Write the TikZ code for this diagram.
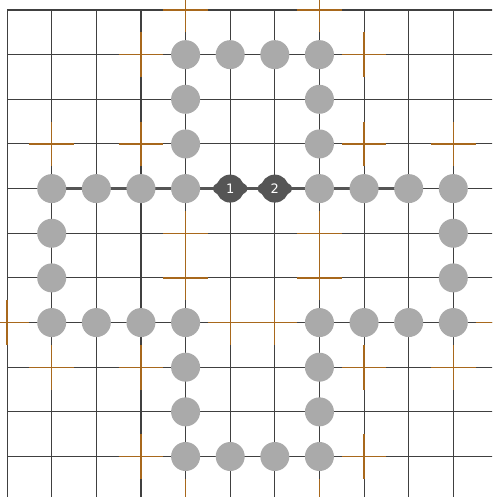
\documentclass[tikz,border=0pt]{standalone}
\usepackage{fontspec}
\setmainfont{DejaVu Sans}
\definecolor{gridc}{HTML}{404040}
\definecolor{crossc}{HTML}{A8681C}
\definecolor{stonec}{HTML}{AAAAAA}
\definecolor{darkc}{HTML}{555555}
\tikzset{
  gridline/.style={draw=gridc, line width=1.1pt},
  crossline/.style={draw=crossc, line width=1.3pt},
  chainline/.style={draw=darkc, line width=3pt},
  stone/.style={circle, fill=stonec, minimum size=29pt, inner sep=0pt},
  darkstone/.style={circle, fill=darkc, minimum size=28pt, inner sep=0pt, text=white, font=\fontsize{13}{13}\selectfont},
  bump/.style={fill=darkc}
}
\begin{document}
\begin{tikzpicture}[x=1pt, y=-1pt]
\useasboundingbox (0,0) rectangle (492,497);
\clip (0,0) rectangle (492,497);
\fill[white] (0,0) rectangle (492,497);
% lattice points
\foreach \i in {0,...,11}{
  \foreach \j in {0,...,11}{
    \coordinate (p-\i-\j) at ({7.1+44.62*\i},{10+44.65*\j});
  }
}
% grid
\foreach \i in {0,...,11}{
  \draw[gridline] (p-\i-0) -- (p-\i-11);
  \draw[gridline] (p-0-\i) -- (p-11-\i);
}
% orange crosses
\foreach \i/\j in {4/0,7/0,3/1,8/1,1/3,3/3,8/3,10/3,4/5,7/5,4/6,7/6,0/7,5/7,6/7,11/7,1/8,3/8,8/8,10/8,3/10,8/10,4/11,7/11}{
  \draw[crossline] ([xshift=-22.3pt]p-\i-\j) -- ([xshift=22.3pt]p-\i-\j);
  \draw[crossline] ([yshift=-22.3pt]p-\i-\j) -- ([yshift=22.3pt]p-\i-\j);
}
% thick chain
\draw[chainline] (p-1-4) -- (p-9-4);
% light stones
\foreach \i/\j in {4/1,5/1,6/1,7/1,4/2,7/2,4/3,7/3,1/4,2/4,3/4,4/4,7/4,8/4,9/4,10/4,1/5,10/5,1/6,10/6,1/7,2/7,3/7,4/7,7/7,8/7,9/7,10/7,4/8,7/8,4/9,7/9,4/10,5/10,6/10,7/10}{
  \node[stone] (s-\i-\j) at (p-\i-\j) {};
}
% dark stones
\fill[bump] (p-5-4) ellipse (17.5 and 8);
\fill[bump] (p-6-4) ellipse (17.5 and 8);
\node[darkstone] (n1) at (p-5-4) {1};
\node[darkstone] (n2) at (p-6-4) {2};
\end{tikzpicture}
\end{document}
